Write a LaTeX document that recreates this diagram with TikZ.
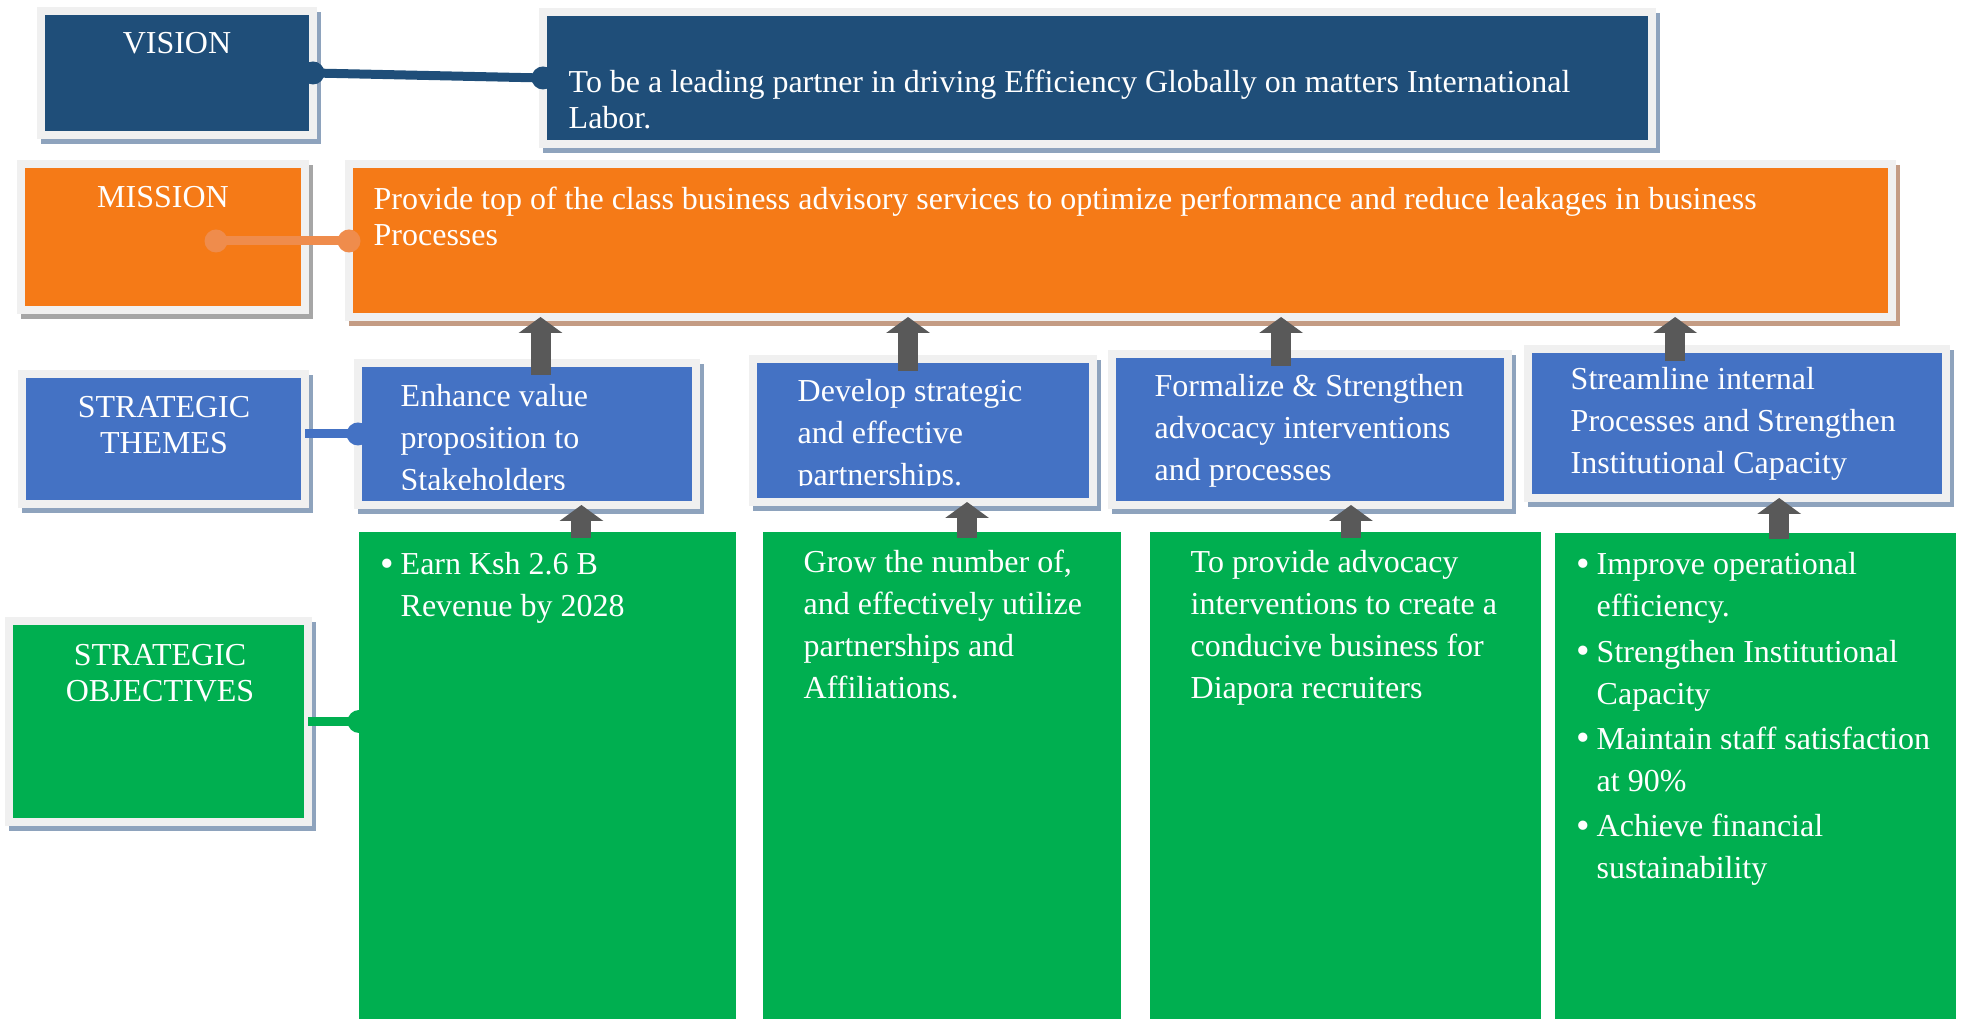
\documentclass[tikz,border=0pt]{standalone}
\usepackage{fontspec}
\setmainfont{Liberation Serif}
\usetikzlibrary{arrows.meta,calc,fit}
\definecolor{visblue}{HTML}{1F4E79}
\definecolor{misorange}{HTML}{F57A17}
\definecolor{misline}{HTML}{EF8C4C}
\definecolor{thmblue}{HTML}{4472C4}
\definecolor{objgreen}{HTML}{00AF50}
\definecolor{rim}{HTML}{F0F0F0}
\definecolor{shadeblue}{HTML}{8EA3BD}
\definecolor{shadegray}{HTML}{A6A6A6}
\definecolor{shadetan}{HTML}{C49C84}
\definecolor{arrowgray}{HTML}{595959}
\newcommand{\itemdot}{\llap{\raisebox{-0.4pt}{\fontsize{11pt}{0pt}\selectfont\textbullet}\hspace{0.7mm}}}

\begin{document}
\begin{tikzpicture}[x=0.1mm,y=-0.1mm,
  panel/.style 2 args={fill=#1,draw=rim,line width=0.8mm,inner sep=0.4mm,outer sep=0pt,
    preaction={draw=#2,line width=0.8mm,transform canvas={shift={(0.4mm,-0.5mm)}}}},
  goal/.style={fill=objgreen,inner sep=0pt,outer sep=0pt},
  % text nodes sit on the baseline of their last line
  lbl/.style={text=white,font=\fontsize{9.1pt}{10.3pt}\selectfont,align=center,anchor=base,inner sep=0pt},
  txt/.style={text=white,font=\fontsize{9.1pt}{#1}\selectfont,align=left,anchor=base west,inner sep=0pt},
  txt/.default=10.3pt,
  uparrow/.style={draw=arrowgray,line width=2mm,-{Triangle[width=4.3mm,length=1.6mm]}}]
  \useasboundingbox (0,0) rectangle (1961,1019);

  % row headings
  \node[panel={visblue}{shadeblue},fit={(45,15) (309,131)}] (vlabel) {};
  \node[panel={misorange}{shadegray},fit={(25,168) (301,306)}] (mlabel) {};
  \node[panel={thmblue}{shadeblue},fit={(26,378) (301,500)}] (tlabel) {};
  \node[panel={objgreen}{shadeblue},fit={(13,625) (304,818)}] (olabel) {};
  \node[lbl] (vname) at (177,54) {VISION};
  \node[lbl] (mname) at (163,208) {MISSION};
  \node[lbl] (tname) at (164,454) {STRATEGIC\\THEMES};
  \node[lbl] (oname) at (160,702) {STRATEGIC\\OBJECTIVES};

  % vision and mission statements
  \node[panel={visblue}{shadeblue},fit={(547,16) (1648,140)}] (vbox) {};
  \node[panel={misorange}{shadetan},fit={(353,168) (1888,313)}] (mbox) {};
  \node[txt] (vtext) at (568,129) {To be a leading partner in driving Efficiency Globally on matters International\\Labor.};
  \node[txt] (mtext) at (373,246) {Provide top of the class business advisory services to optimize performance and reduce leakages in business\\Processes};

  % themes
  \node[panel={thmblue}{shadeblue},fit={(362,367) (692,501)}] (t1) {};
  \node[panel={thmblue}{shadeblue},fit={(757,363) (1089,498)}] (t2) {};
  \node[panel={thmblue}{shadeblue},fit={(1116,358) (1504,501)}] (t3) {};
  \node[panel={thmblue}{shadeblue},fit={(1532,353) (1942,494)}] (t4) {};
  % last line of the first two boxes runs past the text area
  \begin{scope}
    \clip (t1.north west) rectangle ($(t1.south east)+(0,-15)$);
    \node[txt=12pt] (t1text) at (400,491) {Enhance value\\proposition to\\Stakeholders};
  \end{scope}
  \begin{scope}
    \clip (t2.north west) rectangle ($(t2.south east)+(0,-16)$);
    \node[txt=12pt] (t2text) at (797,486) {Develop strategic\\and effective\\partnerships.};
  \end{scope}
  \node[txt=12pt] (t3text) at (1154,481) {Formalize \& Strengthen\\advocacy interventions\\and processes};
  \node[txt=12pt] (t4text) at (1570,474) {Streamline internal\\Processes and Strengthen\\Institutional Capacity};

  % objectives
  \node[goal,fit={(359,532) (736,1019)}] (o1) {};
  \node[goal,fit={(763,532) (1121,1019)}] (o2) {};
  \node[goal,fit={(1150,532) (1541,1019)}] (o3) {};
  \node[goal,fit={(1555,533) (1956,1019)}] (o4) {};
  \node[txt=12pt] (o1text) at (400,617) {\itemdot Earn Ksh 2.6 B\\Revenue by 2028};
  \node[txt=12pt] (o2text) at (803,699) {Grow the number of,\\and effectively utilize\\partnerships and\\Affiliations.};
  \node[txt=12pt] (o3text) at (1190,699) {To provide advocacy\\interventions to create a\\conducive business for\\Diapora recruiters};
  \node[txt=12pt] (o4text) at (1596,879) {\itemdot Improve operational\\efficiency.\\[0.3mm]
    \itemdot Strengthen Institutional\\Capacity\\[0.3mm]
    \itemdot Maintain staff satisfaction\\at 90\%\\[0.3mm]
    \itemdot Achieve financial\\sustainability};

  % links from headings to their rows
  \draw[visblue,line width=0.9mm] (vlabel.east) -- (vbox.west);
  \fill[visblue] (vlabel.east) circle (1.15mm) (vbox.west) circle (1.15mm);
  \coordinate (mdot) at (216,241);
  \draw[misline,line width=0.9mm] (mdot) -- (mdot -| mbox.west);
  \fill[misline] (mdot) circle (1.15mm) (mdot -| mbox.west) circle (1.15mm);
  \draw[thmblue,line width=0.9mm] (tlabel.east |- t1.west) -- (t1.west);
  \fill[thmblue] (t1.west) circle (1.15mm);
  \draw[objgreen,line width=0.9mm] (olabel.east) -- (olabel.east -| o1.west);
  \fill[objgreen] (olabel.east -| o1.west) circle (1.15mm);

  % block arrows: objectives feed themes, themes feed the mission
  \foreach \t/\f in {t1/.54,t2/.456,t3/.427,t4/.352}
    \draw[uparrow] ($(\t.north west)!\f!(\t.north east)+(0,12)$) coordinate (foot) -- (foot |- mbox.south);
  \foreach \o/\t/\f in {o1/t1/.59,o2/t2/.57,o3/t3/.514,o4/t4/.559}
    \draw[uparrow] ($(\o.north west)!\f!(\o.north east)+(0,6)$) coordinate (foot) -- (foot |- \t.south);
\end{tikzpicture}
\end{document}
